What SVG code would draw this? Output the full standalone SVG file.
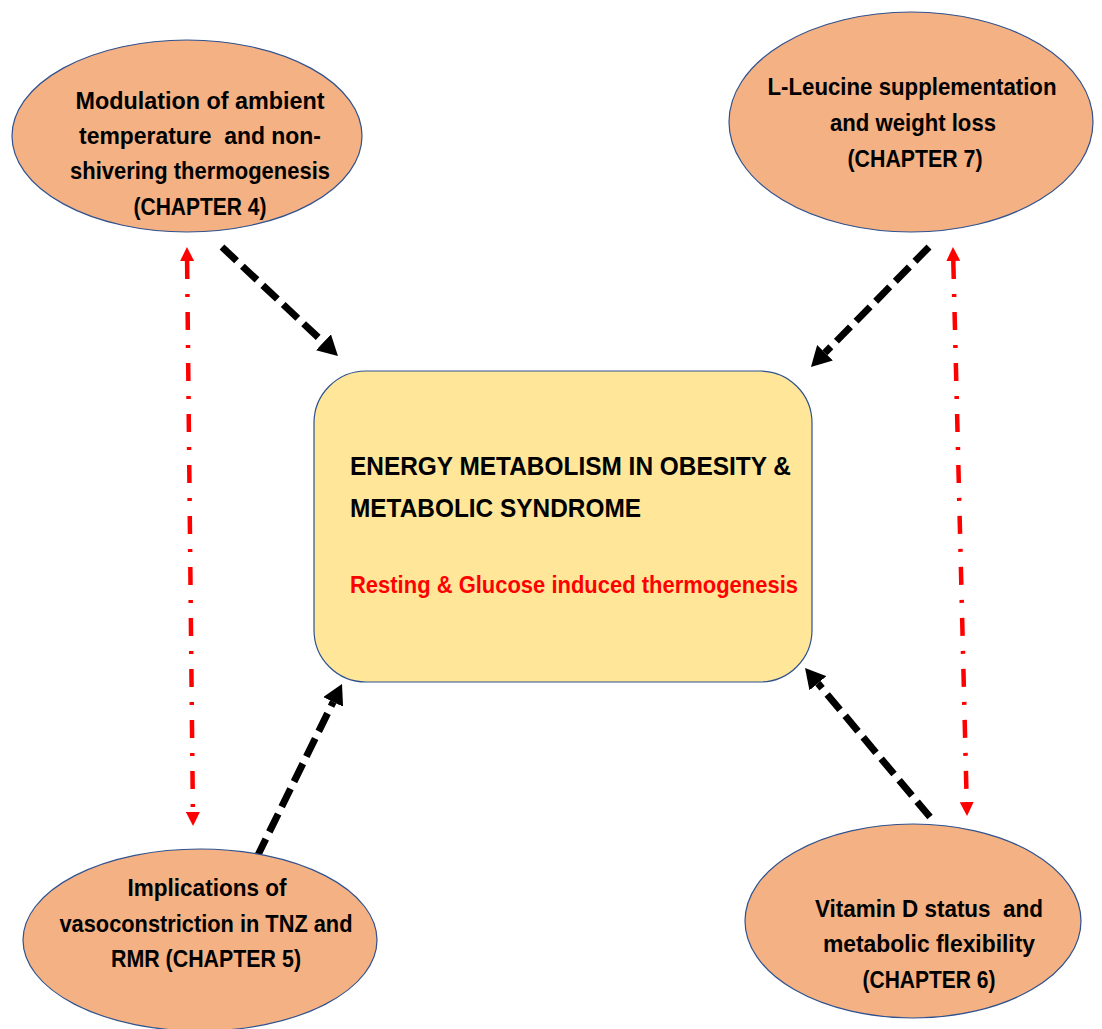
<svg xmlns="http://www.w3.org/2000/svg" width="1102" height="1029" viewBox="0 0 1102 1029">
  <style>
    .node { fill: #F4B183; stroke: #2F528F; stroke-width: 1.2; }
    .box { fill: #FFE699; stroke: #2F528F; stroke-width: 1.2; }
    .t { font-family: "Liberation Sans", Arial, sans-serif; font-weight: bold; font-size: 24px; fill: #000; text-anchor: middle; }
    .title { font-family: "Liberation Sans", Arial, sans-serif; font-weight: bold; font-size: 25px; fill: #000; }
    .sub { font-family: "Liberation Sans", Arial, sans-serif; font-weight: bold; font-size: 23px; fill: #FF0000; }
    .blk { stroke: #000; stroke-width: 7; stroke-dasharray: 20 8; fill: none; }
    .red { stroke: #FF0000; stroke-width: 4.5; stroke-dasharray: 18 15 3 15; fill: none; }
  </style>
  <defs>
    <marker id="ab" markerUnits="userSpaceOnUse" markerWidth="20" markerHeight="22" viewBox="0 -11 20 22" refX="0" refY="0" orient="auto">
      <path d="M0,-11 L20,0 L0,11 z" fill="#000"/>
    </marker>
    <marker id="ar" markerUnits="userSpaceOnUse" markerWidth="14" markerHeight="14" viewBox="0 -7 14 14" refX="0" refY="0" orient="auto-start-reverse">
      <path d="M0,-7 L14,0 L0,7 z" fill="#FF0000"/>
    </marker>
  </defs>
  <rect width="1102" height="1029" fill="#fff"/>

  <g id="connectors">
    <line class="blk" x1="222" y1="247" x2="323.4" y2="342.3" marker-end="url(#ab)"/>
    <line class="blk" x1="929" y1="247" x2="825" y2="352.7" marker-end="url(#ab)"/>
    <line class="blk" x1="257" y1="857" x2="333.2" y2="701.9" marker-end="url(#ab)"/>
    <line class="blk" x1="930" y1="817" x2="817.9" y2="683.3" marker-end="url(#ab)"/>
    <line class="red" x1="187.1" y1="261" x2="192.9" y2="812" marker-start="url(#ar)" marker-end="url(#ar)"/>
    <line class="red" x1="953.3" y1="261" x2="966.7" y2="802" marker-start="url(#ar)" marker-end="url(#ar)"/>
  </g>

  <g id="center">
    <rect class="box" x="314" y="371" width="498" height="311" rx="52" ry="52"/>
    <text class="title" x="350" y="475" textLength="441" lengthAdjust="spacingAndGlyphs">ENERGY METABOLISM IN OBESITY &amp;</text>
    <text class="title" x="350" y="517" textLength="291" lengthAdjust="spacingAndGlyphs">METABOLIC SYNDROME</text>
    <text class="sub" x="350" y="593" textLength="448" lengthAdjust="spacingAndGlyphs">Resting &amp; Glucose induced thermogenesis</text>
  </g>

  <g id="chapter4">
    <ellipse class="node" cx="187" cy="136" rx="175" ry="96"/>
    <text class="t" x="200" y="109" textLength="249" lengthAdjust="spacingAndGlyphs">Modulation of ambient</text>
    <text class="t" x="200" y="144" textLength="242" lengthAdjust="spacingAndGlyphs" xml:space="preserve">temperature  and non-</text>
    <text class="t" x="200" y="179" textLength="260" lengthAdjust="spacingAndGlyphs">shivering thermogenesis</text>
    <text class="t" x="200" y="215" textLength="133" lengthAdjust="spacingAndGlyphs">(CHAPTER 4)</text>
  </g>

  <g id="chapter7">
    <ellipse class="node" cx="911" cy="122" rx="182" ry="110"/>
    <text class="t" x="912" y="95" textLength="289" lengthAdjust="spacingAndGlyphs">L-Leucine supplementation</text>
    <text class="t" x="913" y="131" textLength="166" lengthAdjust="spacingAndGlyphs">and weight loss</text>
    <text class="t" x="915" y="167" textLength="135" lengthAdjust="spacingAndGlyphs">(CHAPTER 7)</text>
  </g>

  <g id="chapter5">
    <ellipse class="node" cx="200" cy="940" rx="177" ry="91"/>
    <text class="t" x="207" y="896" textLength="159" lengthAdjust="spacingAndGlyphs">Implications of</text>
    <text class="t" x="206" y="932" textLength="293" lengthAdjust="spacingAndGlyphs">vasoconstriction in TNZ and</text>
    <text class="t" x="206" y="967" textLength="190" lengthAdjust="spacingAndGlyphs">RMR (CHAPTER 5)</text>
  </g>

  <g id="chapter6">
    <ellipse class="node" cx="913" cy="921" rx="168" ry="97"/>
    <text class="t" x="929" y="917" textLength="228" lengthAdjust="spacingAndGlyphs" xml:space="preserve">Vitamin D status  and</text>
    <text class="t" x="929" y="952" textLength="212" lengthAdjust="spacingAndGlyphs">metabolic flexibility</text>
    <text class="t" x="929" y="988" textLength="133" lengthAdjust="spacingAndGlyphs">(CHAPTER 6)</text>
  </g>
</svg>
